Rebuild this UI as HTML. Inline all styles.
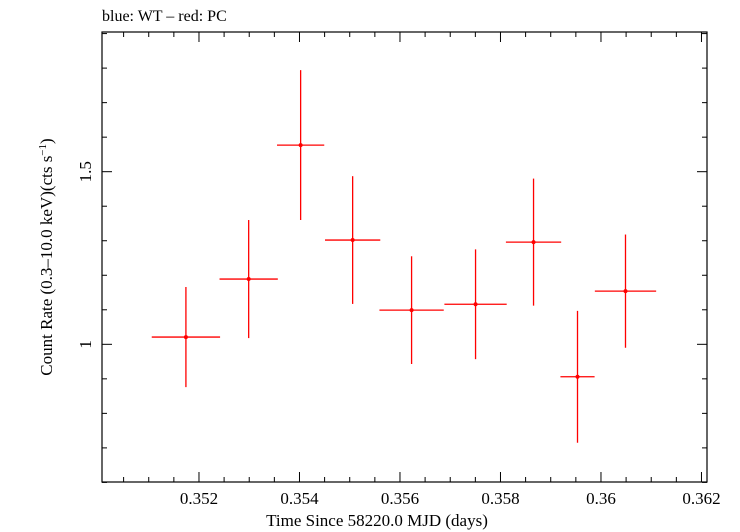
<!DOCTYPE html>
<html><head><meta charset="utf-8"><style>
body{margin:0;background:#fff;}
svg{display:block;font-family:"Liberation Serif",serif;}
</style></head><body>
<svg id="chart" width="740" height="532" viewBox="0 0 740 532">
<text x="102" y="21" font-size="16">blue: WT – red: PC</text>
<rect x="102" y="32" width="605" height="450" fill="none" stroke="#000" stroke-width="1.2"/>
<g id="axes"></g>
<g id="marks"></g>
<text x="377" y="526" font-size="17" text-anchor="middle">Time Since 58220.0 MJD (days)</text>
<text transform="translate(52,257) rotate(-90)" font-size="17" text-anchor="middle">Count Rate (0.3–10.0 keV)(cts s<tspan dy="-6" font-size="11">−1</tspan><tspan dy="6">)</tspan></text>
</svg>
<script>
const times = [0.35174,0.352989,0.354023,0.355058,0.356231,0.357504,0.358658,0.359533,0.360488];
const timeErr = [0.00068,0.00058,0.00047,0.00055,0.00064,0.00062,0.00055,0.00034,0.00061];
const rates = [1.021,1.189,1.577,1.302,1.099,1.116,1.296,0.906,1.154];
const rateErr = [0.145,0.171,0.217,0.185,0.156,0.159,0.184,0.191,0.164];
const xTickLabels = ["0.352","0.354","0.356","0.358","0.36","0.362"];
const yTickLabels = ["1","1.5"];

const NS="http://www.w3.org/2000/svg";
const X0=102,X1=707,Y0=482,Y1=32;
const xMin=0.35007,xMax=0.36211,yMin=0.6012,yMax=1.9046;
const sx=v=>X0+(v-xMin)/(xMax-xMin)*(X1-X0);
const sy=v=>Y0-(v-yMin)/(yMax-yMin)*(Y0-Y1);
function mk(tag,attrs,parent){const e=document.createElementNS(NS,tag);for(const k in attrs)e.setAttribute(k,attrs[k]);parent.appendChild(e);return e;}
const axes=document.getElementById('axes'),marks=document.getElementById('marks');
// x ticks
for(let i=0;i<=24;i++){const v=0.3505+i*0.0005;if(v<xMin||v>xMax)continue;
 const major=Math.abs(v*1000-Math.round(v*500)*2)<1e-6;const x=sx(v);const len=major?10:5;
 const t1=mk('line',{x1:x,x2:x,y1:Y0,y2:Y0-len,stroke:'#000','stroke-width':1},axes);
 
 
 const t2=mk('line',{x1:x,x2:x,y1:Y1,y2:Y1+len,stroke:'#000','stroke-width':1},axes);
 
 }
xTickLabels.forEach(l=>{const t=mk('text',{x:sx(parseFloat(l)),y:504,'font-size':17,'text-anchor':'middle'},axes);t.textContent=l;
 
 });
// y ticks
for(let i=6;i<=19;i++){const v=i/10;const y=sy(v);const major=(i%5===0);const len=major?10:5;
 const t1=mk('line',{x1:X0,x2:X0+len,y1:y,y2:y,stroke:'#000','stroke-width':1},axes);
 
 
 const t2=mk('line',{x1:X1,x2:X1-len,y1:y,y2:y,stroke:'#000','stroke-width':1},axes);
 
 }
yTickLabels.forEach(l=>{const t=mk('text',{transform:`translate(91,${sy(parseFloat(l))}) rotate(-90)`,'font-size':17,'text-anchor':'middle'},axes);t.textContent=l;
 
 });
// data
times.forEach((t,i)=>{const g=mk('g',{stroke:'#f00','stroke-width':1.3},marks);
 
 
 mk('line',{x1:sx(t-timeErr[i]),x2:sx(t+timeErr[i]),y1:sy(rates[i]),y2:sy(rates[i])},g);
 mk('line',{x1:sx(t),x2:sx(t),y1:sy(rates[i]-rateErr[i]),y2:sy(rates[i]+rateErr[i])},g);
 mk('circle',{cx:sx(t),cy:sy(rates[i]),r:2,fill:'#f00',stroke:'none'},g);});
</script>
</body></html>
